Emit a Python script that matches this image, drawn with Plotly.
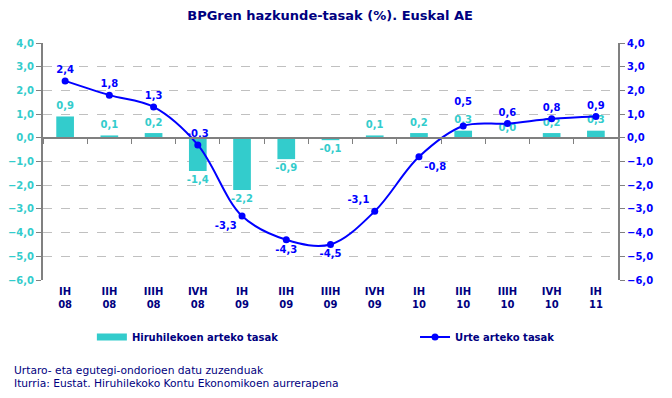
import plotly.graph_objects as go

quarters = ["IH", "IIH", "IIIH", "IVH", "IH", "IIH", "IIIH", "IVH", "IH", "IIH", "IIIH", "IVH", "IH"]
years = ["08", "08", "08", "08", "09", "09", "09", "09", "10", "10", "10", "10", "11"]
quarterly = [0.9, 0.1, 0.2, -1.4, -2.2, -0.9, -0.1, 0.1, 0.2, 0.3, 0.0, 0.2, 0.3]
annual = [2.4, 1.8, 1.3, -0.3, -3.3, -4.3, -4.5, -3.1, -0.8, 0.5, 0.6, 0.8, 0.9]
annual_label_pos = ["top center", "top center", "top center", "top center", "bottom left",
                    "bottom center", "bottom center", "top left", "bottom right",
                    "top center", "top center", "top center", "top center"]
# labels lifted one extra line to clear the bar label underneath
annual_label_lift = [False] * 9 + [True] + [False] * 3

cats = [f"{q}<br>{y}" for q, y in zip(quarters, years)]

NAVY = "#000080"
CYAN = "#33CCCC"
BLUE = "#0000FF"
FONT = "DejaVu Sans"


def fmt(v):
    return f"{v:.1f}".replace(".", ",")


fig = go.Figure()

fig.add_trace(go.Bar(
    x=cats, y=quarterly, name="Hiruhilekoen arteko tasak",
    marker=dict(color=CYAN, line=dict(width=0)), width=0.4,
    xaxis="x", yaxis="y", showlegend=False,
))
# legend-only swatch for the bars (wide flat rectangle like the original)
fig.add_trace(go.Scatter(
    x=[None], y=[None], mode="lines", name="Hiruhilekoen arteko tasak",
    line=dict(color=CYAN, width=7), xaxis="x", yaxis="y", legend="legend",
))
fig.add_trace(go.Scatter(
    x=cats, y=quarterly, mode="markers+text",
    marker=dict(size=6, opacity=0),
    text=[fmt(v) for v in quarterly],
    textposition=["top center" if v >= 0 else "bottom center" for v in quarterly],
    textfont=dict(family=FONT, size=10, color=CYAN, weight="bold"),
    showlegend=False, hoverinfo="skip", xaxis="x", yaxis="y", cliponaxis=False,
))
fig.add_trace(go.Scatter(
    x=cats, y=annual, name="Urte arteko tasak",
    mode="lines+markers+text",
    line=dict(color=BLUE, width=2, shape="spline", smoothing=1.0),
    marker=dict(color=BLUE, size=7, symbol="circle"),
    text=[fmt(v) + ("<br> " if lift else "") for v, lift in zip(annual, annual_label_lift)],
    textposition=annual_label_pos,
    textfont=dict(family=FONT, size=10, color=BLUE, weight="bold"),
    xaxis="x2", yaxis="y2", legend="legend2", cliponaxis=False,
))

tickfont_x = dict(family=FONT, size=10, color=NAVY, weight="bold")

fig.update_layout(
    width=664, height=390,
    margin=dict(l=35, r=54, t=35, b=118, autoexpand=False),
    paper_bgcolor="white", plot_bgcolor="white",
    separators=",.",
    font=dict(family=FONT, size=10, color=NAVY),
    title=dict(text="BPGren hazkunde-tasak (%). Euskal AE", x=0.485, xanchor="center",
               y=0.982, yanchor="middle",
               font=dict(family=FONT, size=13, color=NAVY, weight="bold")),
    xaxis=dict(type="category", range=[-0.5, 12.5], showline=False, ticks="",
               tickfont=tickfont_x, showgrid=False, zeroline=False, ticklabelstandoff=4,
               automargin=False),
    xaxis2=dict(type="category", range=[-0.5, 12.5], overlaying="x", anchor="free",
                position=0.6, showline=True, linecolor="#808080", linewidth=2,
                ticks="outside", tickson="boundaries", ticklen=5, tickcolor="#808080",
                tickwidth=1, showticklabels=False, showgrid=False, zeroline=False,
                automargin=False),
    yaxis=dict(range=[-6, 4], dtick=1, tickformat=".1f", showline=True, linecolor="#808080",
               linewidth=2, ticks="outside", ticklen=5, tickcolor="#808080",
               showgrid=True, gridcolor="#C0C0C0", griddash="dash", gridwidth=1,
               zeroline=False, automargin=False,
               tickfont=dict(family=FONT, size=10, color=CYAN, weight="bold")),
    yaxis2=dict(range=[-6, 4], dtick=1, tickformat=".1f", overlaying="y", side="right",
                showline=True, linecolor="#808080", linewidth=2, ticks="outside", ticklen=5,
                tickcolor="#808080", showgrid=False, zeroline=False, automargin=False,
                tickfont=dict(family=FONT, size=10, color=BLUE, weight="bold")),
    legend=dict(orientation="h", x=0.085, y=-0.24, xanchor="left", yanchor="middle",
                font=dict(family=FONT, size=10, color=NAVY, weight="bold"),
                bgcolor="rgba(0,0,0,0)"),
    legend2=dict(orientation="h", x=0.647, y=-0.24, xanchor="left", yanchor="middle",
                 font=dict(family=FONT, size=10, color=NAVY, weight="bold"),
                 bgcolor="rgba(0,0,0,0)"),
    annotations=[
        dict(text="Urtaro- eta egutegi-ondorioen datu zuzenduak", xref="paper", yref="paper",
             x=-0.054, y=-0.38, xanchor="left", yanchor="middle", showarrow=False,
             font=dict(family=FONT, size=10.7, color=NAVY)),
        dict(text="Iturria: Eustat. Hiruhilekoko Kontu Ekonomikoen aurrerapena", xref="paper",
             yref="paper", x=-0.054, y=-0.435, xanchor="left", yanchor="middle",
             showarrow=False, font=dict(family=FONT, size=10.7, color=NAVY)),
    ],
)

fig.write_html("out.html")
